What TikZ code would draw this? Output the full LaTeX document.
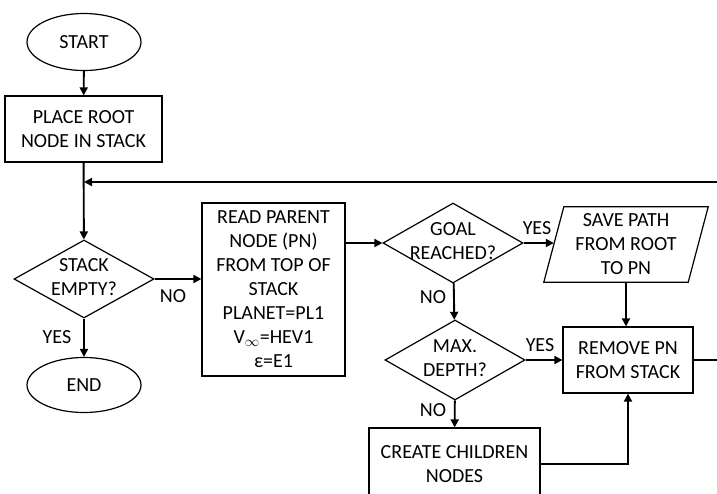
\documentclass[tikz,border=0pt]{standalone}
\usepackage{fontspec}
\setmainfont{Carlito}
\usetikzlibrary{shapes.geometric,arrows.meta}
\begin{document}
\begin{tikzpicture}[x=1pt,y=-1pt,
  font=\fontsize{20}{24}\selectfont,
  shp/.style={draw,line width=1.2pt,inner sep=0pt,align=center},
  boxn/.style={shp,rectangle},
  termn/.style={shp,ellipse},
  decn/.style={shp,diamond},
  arr/.style={line width=1.9pt,-{Triangle[length=8pt,width=8pt]}},
  lbl/.style={inner sep=0pt}]
\useasboundingbox (0,0) rectangle (717,493);
\clip (0,0) rectangle (717,493);

\node[termn,minimum width=114pt,minimum height=57pt] (start) at (84,42) {START};
\node[boxn,minimum width=157pt,minimum height=66pt] (root) at (83.5,129) {PLACE ROOT\\NODE IN STACK};
\coordinate (join) at (84,182);
\node[decn,minimum width=140pt,minimum height=78pt,label=center:{\begin{tabular}{@{}c@{}}STACK\\EMPTY?\end{tabular}}] (stackq) at (84,279) {};
\node[termn,minimum width=114pt,minimum height=55pt] (end) at (84,385) {END};
\node[boxn,minimum width=143pt,minimum height=173pt] (read) at (273.5,289.5) {READ PARENT\\NODE (PN)\\FROM TOP OF\\STACK\\PLANET=PL1\\V$_\infty$=HEV1\\ε=E1};
\node[decn,minimum width=140pt,minimum height=80pt,label=center:{\begin{tabular}{@{}c@{}}GOAL\\REACHED?\end{tabular}}] (goal) at (453,243) {};
\node[align=center,inner sep=0pt,minimum width=144pt,minimum height=75pt] (save) at (626,244.5) {SAVE PATH\\FROM ROOT\\TO PN};
\draw[line width=1.2pt] ([xshift=10pt]save.north west) -- ([xshift=10pt]save.north east)
  -- ([xshift=-10pt]save.south east) -- ([xshift=-10pt]save.south west) -- cycle;
\node[decn,minimum width=140pt,minimum height=80pt,label=center:{\begin{tabular}{@{}c@{}}MAX.\\DEPTH?\end{tabular}}] (maxd) at (455,360) {};
\node[boxn,minimum width=130pt,minimum height=66pt] (remove) at (628,360) {REMOVE PN\\FROM STACK};
\node[boxn,minimum width=171pt,minimum height=72pt] (create) at (454.5,464) {CREATE CHILDREN\\NODES};

\draw[arr] (start) -- (root);
\draw[arr] (root) -- (stackq);
\draw[arr] (stackq.east) -- (stackq.east -| read.west);
\draw[arr] (stackq) -- (end);
\draw[arr] (goal.west -| read.east) -- (goal.west);
\draw[arr] (goal.east) -- (goal.east -| save.west);
\draw[arr] (save.south) -- (save.south |- remove.north);
\draw[arr] (goal) -- (maxd);
\draw[arr] (maxd.east) -- (remove.west);
\draw[arr] (maxd) -- (create);
\draw[arr] (create.east) -| (remove.south);
\draw[arr] (remove.east) -- ++(45,0) |- (join);

\node[lbl] (l1) at (173,296) {NO};
\node[lbl] (l2) at (57,337) {YES};
\node[lbl] (l3) at (537,228) {YES};
\node[lbl] (l4) at (433,297) {NO};
\node[lbl] (l5) at (540,345) {YES};
\node[lbl] (l6) at (433,410) {NO};
\end{tikzpicture}
\end{document}
